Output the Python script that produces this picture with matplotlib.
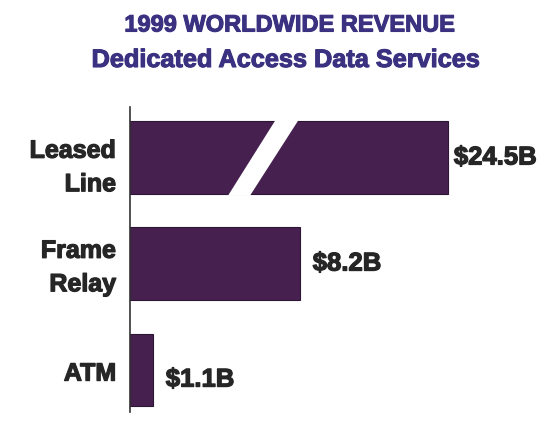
import matplotlib
matplotlib.use("Agg")
import matplotlib.pyplot as plt
import matplotlib.patheffects as pe
import numpy as np
from matplotlib.patches import Polygon

categories = ["Leased\nLine", "Frame\nRelay", "ATM"]
values = [24.5, 8.2, 1.1]
value_labels = ["$24.5B", "$8.2B", "$1.1B"]
title_lines = ["1999 WORLDWIDE REVENUE", "Dedicated Access Data Services"]

# label placement offsets (pixels)
cat_dy = [-10, -4, -4]
val_dx = [6, 13, 13]
val_dy = [0, 0, -10]

BREAK = 9.0
K = 0.41

def fwd(x):
    x = np.asarray(x, dtype=float)
    return np.where(x <= BREAK, x, BREAK + (x - BREAK) * K)

def inv(y):
    y = np.asarray(y, dtype=float)
    return np.where(y <= BREAK, y, BREAK + (y - BREAK) / K)

plt.rcParams['font.family'] = ['Liberation Sans', 'DejaVu Sans']

fig = plt.figure(figsize=(5.5, 4.22), dpi=100)
ax = fig.add_axes([130/550, 1 - 412/422, 390/550, 305/422])
ax.set_xscale('function', functions=(fwd, inv))

bar_color = '#46214f'
y = np.arange(len(categories))
ax.barh(y, values, height=0.68, color=bar_color, edgecolor='#2e1535', linewidth=0.8)

# slash (break mark) on the leased line bar
u = 20.7  # px per unit
top_y = 0 - 0.34
bot_y = 0 + 0.34
slash = Polygon([[146/u, top_y - 0.02], [169/u, top_y - 0.02], [120/u, bot_y + 0.02], [98/u, bot_y + 0.02]],
                closed=True, facecolor='white', edgecolor='none', zorder=5)
ax.add_patch(slash)

ax.set_xlim(0, float(inv(390/u)))
ax.set_ylim(2.4, -0.476)

heavy_dark = [pe.withStroke(linewidth=0.9, foreground='#262626')]
for yi, v, lab, dx, dy in zip(y, values, value_labels, val_dx, val_dy):
    ax.annotate(lab, xy=(v, yi), xytext=(dx, dy), textcoords='offset pixels',
                va='center', ha='left', fontsize=18.5, fontweight='bold',
                color='#262626', path_effects=heavy_dark)

for yi, cat, dy in zip(y, categories, cat_dy):
    ax.annotate(cat, xy=(0, yi), xycoords=ax.get_yaxis_transform(),
                xytext=(-14, dy), textcoords='offset pixels', va='center', ha='right',
                fontsize=18, fontweight='bold', color='#262626', linespacing=1.5,
                path_effects=heavy_dark)

for s in ['top', 'right', 'bottom']:
    ax.spines[s].set_visible(False)
ax.spines['left'].set_color('#333333')
ax.spines['left'].set_linewidth(1.2)
ax.set_xticks([])
ax.set_yticks([])
ax.xaxis.set_minor_locator(matplotlib.ticker.NullLocator())

title_color = '#3a3180'
heavy_title = [pe.withStroke(linewidth=0.8, foreground=title_color)]
fig.text(0.527, 1 - 25/422, title_lines[0], ha='center', va='center', fontsize=17,
         fontweight='bold', color=title_color, path_effects=heavy_title)
fig.text(0.518, 1 - 60/422, title_lines[1], ha='center', va='center', fontsize=18.2,
         fontweight='bold', color=title_color, path_effects=heavy_title)

fig.savefig("out.png", dpi=100)
